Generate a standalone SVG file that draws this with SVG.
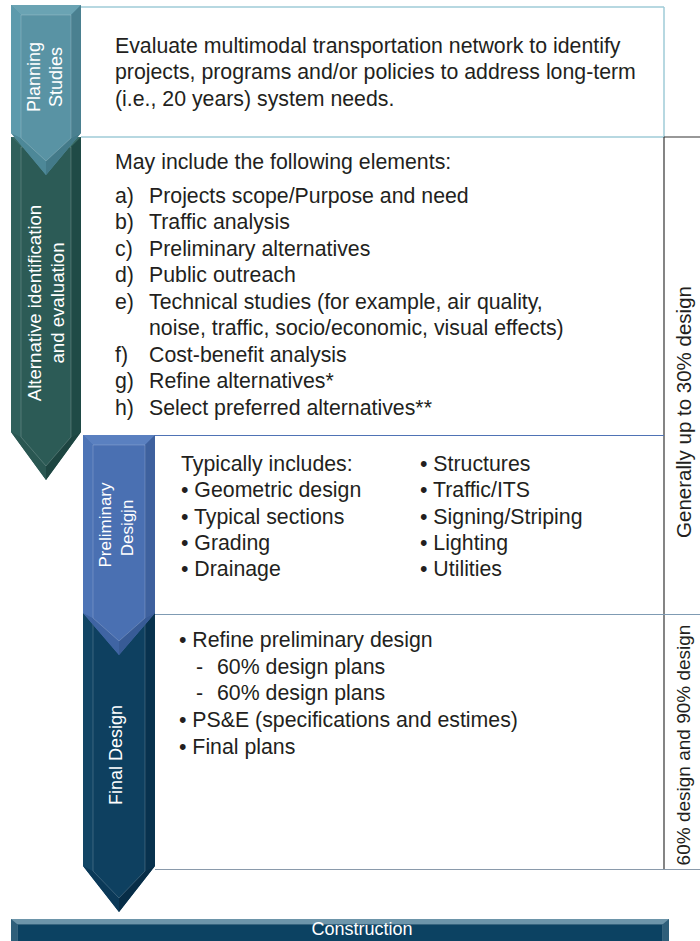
<svg xmlns="http://www.w3.org/2000/svg" width="700" height="941" viewBox="0 0 700 941">
<style>
.body{font-family:"Liberation Sans",Arial,sans-serif;font-size:21.3px;fill:#231f20}
.side{font-family:"Liberation Sans",Arial,sans-serif;font-size:20.5px;fill:#231f20;text-anchor:middle}
.lbl{font-family:"Liberation Sans",Arial,sans-serif;font-size:18px;fill:#ffffff;text-anchor:middle}
.edge{stroke:#ffffff;stroke-opacity:0.18;stroke-width:1;fill:none}
</style>
<rect width="700" height="941" fill="#ffffff"/>
<g id="dividers" fill="none">
  <line x1="81" y1="7" x2="664" y2="7" stroke="#9fcbd7" stroke-width="1.5"/>
  <line x1="664" y1="7" x2="664" y2="137" stroke="#9fcbd7" stroke-width="1.5"/>
  <line x1="81" y1="137" x2="664" y2="137" stroke="#9fcbd7" stroke-width="1.5"/>
  <line x1="664" y1="137" x2="700" y2="137" stroke="#333333" stroke-width="1.2"/>
  <line x1="664" y1="137" x2="664" y2="870" stroke="#333333" stroke-width="1.2"/>
  <line x1="83" y1="435.5" x2="664" y2="435.5" stroke="#4f73b5" stroke-width="1.2"/>
  <line x1="155" y1="614.5" x2="700" y2="614.5" stroke="#7f9bb3" stroke-width="1.2"/>
  <line x1="155" y1="869.5" x2="700" y2="869.5" stroke="#8a9aab" stroke-width="1.2"/>
</g>
<g id="construction">
  <rect x="11" y="919" width="658" height="30" fill="#2f5f7a"/>
  <polygon points="11,919 669,919 663,924 17,924" fill="#6d95aa"/>
  <rect x="17" y="924" width="646" height="25" fill="#0c4262"/>
  <rect x="17.5" y="924.5" width="645" height="24" class="edge"/>
  <text x="362" y="935" class="lbl">Construction</text>
</g>
<g id="final-design">
  <polygon points="83,610 155,610 155,866 119,912 83,866" fill="#0e4060"/>
  <polygon points="83,610 155,610 145,620 93,620" fill="#1d5070"/>
  <polygon points="155,610 155,866 145,871 145,620" fill="#08324e"/>
  <polygon points="155,866 119,912 119,898 145,871" fill="#072d47"/>
  <polygon points="119,912 83,866 93,871 119,898" fill="#0b3958"/>
  <polygon points="83,866 83,610 93,620 93,871" fill="#114565"/>
  <polygon points="93,620 145,620 145,871 119,898 93,871" class="edge"/>
  <text class="lbl" transform="translate(122,755) rotate(-90)">Final Design</text>
  <text class="body" x="179" y="647">• Refine preliminary design</text>
  <text class="body" y="674"><tspan x="196">-</tspan><tspan x="217">60% design plans</tspan></text>
  <text class="body" y="700"><tspan x="196">-</tspan><tspan x="217">60% design plans</tspan></text>
  <text class="body" x="179" y="727">• PS&amp;E (specifications and estimes)</text>
  <text class="body" x="179" y="754">• Final plans</text>
</g>
<g id="preliminary-design">
  <polygon points="83,435 155,435 155,613 119,655 83,613" fill="#4a70b2"/>
  <polygon points="83,435 155,435 145,445 93,445" fill="#5a80c0"/>
  <polygon points="155,435 155,613 145,618 145,445" fill="#3e619e"/>
  <polygon points="155,613 119,655 119,641 145,618" fill="#385b96"/>
  <polygon points="119,655 83,613 93,618 119,641" fill="#3f64a3"/>
  <polygon points="83,613 83,435 93,445 93,618" fill="#4d74b6"/>
  <polygon points="93,445 145,445 145,618 119,641 93,618" class="edge"/>
  <text class="lbl" style="font-size:17px" transform="translate(111,525) rotate(-90)">Preliminary</text>
  <text class="lbl" style="font-size:17px" transform="translate(133,528) rotate(-90)">Desigjn</text>
  <text class="body" x="181" y="471">Typically includes:</text>
  <text class="body" x="181" y="497">• Geometric design</text>
  <text class="body" x="181" y="524">• Typical sections</text>
  <text class="body" x="181" y="550">• Grading</text>
  <text class="body" x="181" y="576">• Drainage</text>
  <text class="body" x="420" y="471">• Structures</text>
  <text class="body" x="420" y="497">• Traffic/ITS</text>
  <text class="body" x="420" y="524">• Signing/Striping</text>
  <text class="body" x="420" y="550">• Lighting</text>
  <text class="body" x="420" y="576">• Utilities</text>
</g>
<g id="alternative-identification">
  <polygon points="11,137 81,137 81,432 46,480 11,432" fill="#2c5b56"/>
  <polygon points="11,137 81,137 71,147 21,147" fill="#386b66"/>
  <polygon points="81,137 81,432 71,437 71,147" fill="#1f4a46"/>
  <polygon points="81,432 46,480 46,466 71,437" fill="#1d4541"/>
  <polygon points="46,480 11,432 21,437 46,466" fill="#2a5752"/>
  <polygon points="11,432 11,137 21,147 21,437" fill="#2f605b"/>
  <polygon points="21,147 71,147 71,437 46,466 21,437" class="edge"/>
  <text class="lbl" style="font-size:18.6px" transform="translate(41,303) rotate(-90)">Alternative identification</text>
  <text class="lbl" style="font-size:18.6px" transform="translate(64,303) rotate(-90)">and evaluation</text>
  <text class="body" x="115" y="169">May include the following elements:</text>
  <g class="body">
    <text x="115" y="203">a)</text><text x="149" y="203">Projects scope/Purpose and need</text>
    <text x="115" y="229">b)</text><text x="149" y="229">Traffic analysis</text>
    <text x="115" y="256">c)</text><text x="149" y="256">Preliminary alternatives</text>
    <text x="115" y="282">d)</text><text x="149" y="282">Public outreach</text>
    <text x="115" y="309">e)</text><text x="149" y="309">Technical studies (for example, air quality,</text>
    <text x="149" y="335">noise, traffic, socio/economic, visual effects)</text>
    <text x="115" y="362">f)</text><text x="149" y="362">Cost-benefit analysis</text>
    <text x="115" y="388">g)</text><text x="149" y="388">Refine alternatives*</text>
    <text x="115" y="415">h)</text><text x="149" y="415">Select preferred alternatives**</text>
  </g>
</g>
<g id="planning-studies">
  <polygon points="11,5 81,5 81,133 46,175 11,133" fill="#5993a4"/>
  <polygon points="11,5 81,5 71,15 21,15" fill="#6aa3b3"/>
  <polygon points="81,5 81,133 71,138 71,15" fill="#4a8090"/>
  <polygon points="81,133 46,175 46,161 71,138" fill="#437a89"/>
  <polygon points="46,175 11,133 21,138 46,161" fill="#4d8898"/>
  <polygon points="11,133 11,5 21,15 21,138" fill="#5d9aac"/>
  <polygon points="21,15 71,15 71,138 46,161 21,138" class="edge"/>
  <text class="lbl" transform="translate(40,77) rotate(-90)">Planning</text>
  <text class="lbl" transform="translate(62,77) rotate(-90)">Studies</text>
  <text class="body" x="115" y="53">Evaluate multimodal transportation network to identify</text>
  <text class="body" x="115" y="79">projects, programs and/or policies to address long-term</text>
  <text class="body" x="115" y="106">(i.e., 20 years) system needs.</text>
</g>
<g id="design-levels">
  <text class="side" transform="translate(691,412) rotate(-90)">Generally up to 30% design</text>
  <text class="side" style="font-size:19px" transform="translate(690,745) rotate(-90)">60% design and 90% design</text>
</g>
</svg>
